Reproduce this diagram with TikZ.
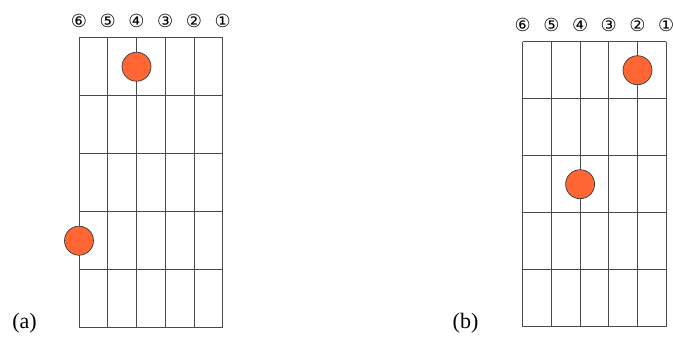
\documentclass[tikz,border=0pt]{standalone}
\usepackage{fontspec}
\setmainfont{Liberation Serif}
\newfontfamily\symfont{DejaVu Sans}
\definecolor{FBLine}{HTML}{4A4A4A}
\definecolor{FBDot}{HTML}{FF6633}
\definecolor{FBRim}{HTML}{3A3A3A}
\tikzset{
  fret/.style={FBLine,line width=0.8pt},
  finger/.style={circle,draw=FBRim,fill=FBDot,line width=0.7pt,
                 minimum size=29pt,inner sep=0pt},
  strnum/.style={font=\symfont\fontsize{18}{18}\selectfont,text=black,inner sep=0pt},
  caption/.style={font=\fontsize{22}{24}\selectfont,anchor=base,inner sep=0pt},
}
\begin{document}
\begin{tikzpicture}[x=1pt,y=-1pt]
  \useasboundingbox (0,0) rectangle (673,341);
  % chord (a)
  \begin{scope}[shift={(79,37.7)}]
    \foreach \s in {0,...,5} \draw[fret] (\s*28.75,0) -- (\s*28.75,290);
    \foreach \f in {0,...,5} \draw[fret] (0,\f*58) -- (143.75,\f*58);
    \foreach \s/\n/\c in {0/6/⑥,1/5/⑤,2/4/④,3/3/③,4/2/②,5/1/①}
      \node[strnum] (na\n) at (\s*28.75,-17) {\c};
    \node[finger] (fa1) at (2*28.75,29) {};
    \node[finger] (fa2) at (0,203) {};
  \end{scope}
  \node[caption] (capa) at (24.5,328) {(a)};
  % chord (b)
  \begin{scope}[shift={(522.7,41.7)}]
    \foreach \s in {0,...,5} \draw[fret] (\s*28.7,0) -- (\s*28.7,285);
    \foreach \f in {0,...,5} \draw[fret] (0,\f*57) -- (143.5,\f*57);
    \foreach \s/\n/\c in {0/6/⑥,1/5/⑤,2/4/④,3/3/③,4/2/②,5/1/①}
      \node[strnum] (nb\n) at (\s*28.7,-16.7) {\c};
    \node[finger] (fb1) at (4*28.7,28.5) {};
    \node[finger] (fb2) at (2*28.7,142.5) {};
  \end{scope}
  \node[caption] (capb) at (465.5,328) {(b)};
\end{tikzpicture}
\end{document}
